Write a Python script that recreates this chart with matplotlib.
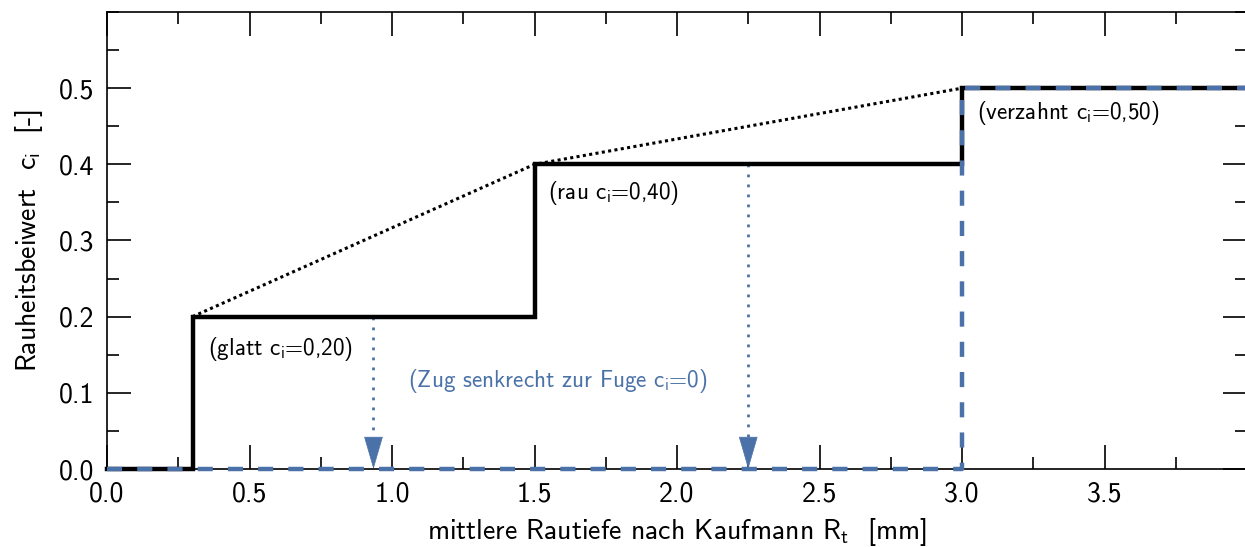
import matplotlib
matplotlib.use("Agg")
import matplotlib.pyplot as plt
from matplotlib.ticker import MultipleLocator

plt.rcParams['font.family'] = ['cmss10', 'DejaVu Sans']
plt.rcParams['axes.unicode_minus'] = False
plt.rcParams['mathtext.fontset'] = 'custom'
plt.rcParams['mathtext.rm'] = 'cmss10'

# data
step_x = [0.0, 0.3, 0.3, 1.5, 1.5, 3.0, 3.0, 4.0]
step_y = [0.0, 0.0, 0.2, 0.2, 0.4, 0.4, 0.5, 0.5]
tension_x = [0.0, 3.0, 3.0, 4.0]
tension_y = [0.0, 0.0, 0.5, 0.5]
envelope_x = [0.3, 1.5, 3.0]
envelope_y = [0.2, 0.4, 0.5]
arrow_x = [0.935, 2.25]
arrow_top = [0.2, 0.4]
labels = ["(glatt c$_\\mathregular{i}$=0,20)", "(rau c$_\\mathregular{i}$=0,40)",
          "(verzahnt c$_\\mathregular{i}$=0,50)"]
label_pos = [(0.355, 0.157), (1.548, 0.363), (3.054, 0.467)]
blue_label = "(Zug senkrecht zur Fuge c$_\\mathregular{i}$=0)"
blue_label_pos = (1.057, 0.115)

blue = '#4a72a8'

fig = plt.figure(figsize=(12.45, 5.47), dpi=100)
ax = fig.add_axes([107/1245, 78/547, 1140/1245, 457/547])

ax.plot(step_x, step_y, color='black', lw=3.2, solid_joinstyle='miter', clip_on=False, zorder=3)
ax.plot(tension_x, tension_y, color=blue, lw=3.2, linestyle=(0, (3.4, 3.4)), clip_on=False, zorder=4)
ax.plot(envelope_x, envelope_y, color='black', lw=2.2, linestyle=(0, (1, 1.1)), zorder=2)

for x, top in zip(arrow_x, arrow_top):
    ax.plot([x, x], [top, 0.03], color=blue, lw=2.0, linestyle=(0, (1, 2.6)), zorder=2)
    ax.annotate('', xy=(x, 0.0), xytext=(x, 0.03),
                arrowprops=dict(arrowstyle='-|>,head_length=1.1,head_width=0.32',
                                color=blue, lw=0.5, shrinkA=0, shrinkB=0,
                                mutation_scale=20), zorder=5)

for txt, (tx, ty) in zip(labels, label_pos):
    ax.text(tx, ty, txt, fontsize=16.7, va='center', ha='left', color='black')
ax.text(blue_label_pos[0], blue_label_pos[1], blue_label, fontsize=16.7, va='center', ha='left', color=blue)

ax.set_xlim(0, 4.0)
ax.set_ylim(0, 0.6)
ax.xaxis.set_major_locator(MultipleLocator(0.5))
ax.xaxis.set_minor_locator(MultipleLocator(0.25))
ax.yaxis.set_major_locator(MultipleLocator(0.1))
ax.yaxis.set_minor_locator(MultipleLocator(0.05))
ax.set_xticks([0, 0.5, 1.0, 1.5, 2.0, 2.5, 3.0, 3.5])
ax.set_xticklabels(['0.0', '0.5', '1.0', '1.5', '2.0', '2.5', '3.0', '3.5'])
ax.set_yticks([0, 0.1, 0.2, 0.3, 0.4, 0.5])
ax.set_yticklabels(['0.0', '0.1', '0.2', '0.3', '0.4', '0.5'])
ax.tick_params(which='both', direction='in', top=True, right=True, width=1.2, labelsize=20)
ax.tick_params(which='major', length=17, pad=9)
ax.tick_params(which='minor', length=8.5)
for s in ax.spines.values():
    s.set_linewidth(1.2)

ax.set_xlabel('mittlere Rautiefe nach Kaufmann R$_\\mathregular{t}$  [mm]', fontsize=20, labelpad=7)
ax.set_ylabel('Rauheitsbeiwert  c$_\\mathregular{i}$  [-]', fontsize=20, labelpad=10)

fig.savefig('out.png', dpi=100)
